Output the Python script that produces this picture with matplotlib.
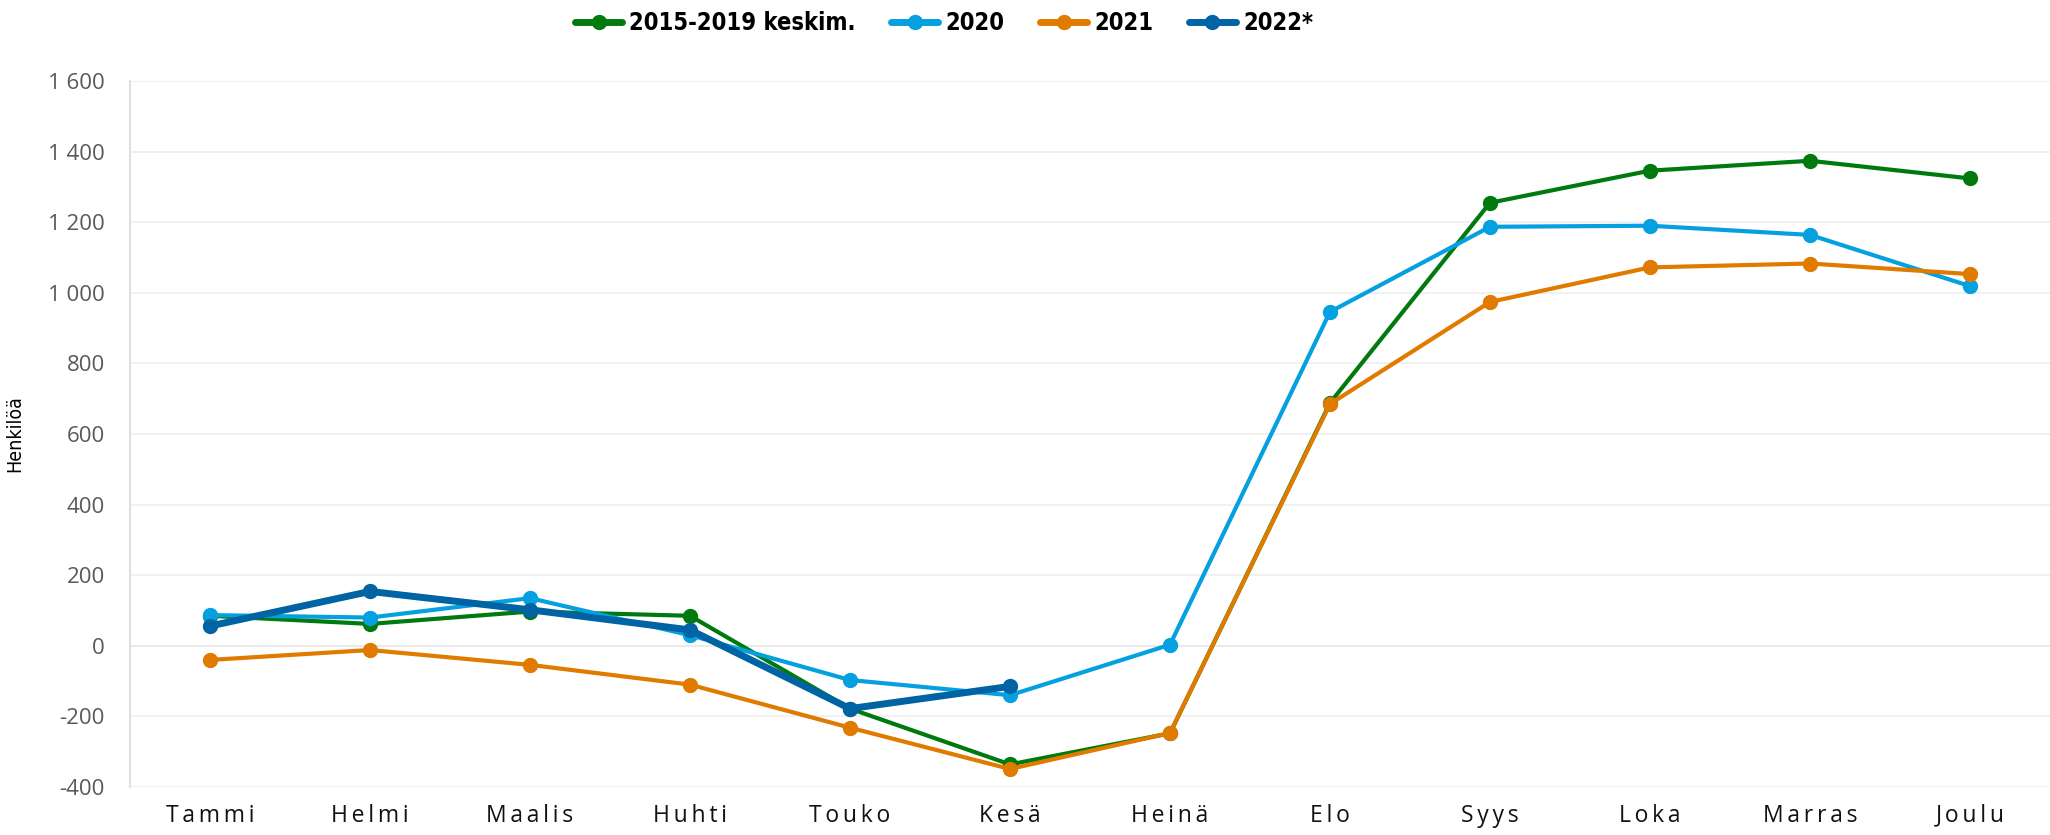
import matplotlib
matplotlib.use('Agg')
import matplotlib.pyplot as plt
from matplotlib.ticker import FuncFormatter

# Kuukaudet ja sarjat (luettu kuvasta)
months = ['Tammi', 'Helmi', 'Maalis', 'Huhti', 'Touko', 'Kesä',
          'Heinä', 'Elo', 'Syys', 'Loka', 'Marras', 'Joulu']
avg_2015_2019 = [85, 62, 97, 85, -178, -336, -248, 688, 1255, 1346, 1374, 1324]
y2020 = [87, 80, 135, 30, -97, -140, 3, 946, 1187, 1190, 1164, 1019]
y2021 = [-40, -12, -54, -110, -232, -349, -247, 685, 974, 1072, 1083, 1053]
y2022 = [56, 154, 102, 45, -178, -115]

series = [
    ('2015-2019 keskim.', avg_2015_2019, '#007a0f', 3.0),
    ('2020', y2020, '#05a0e0', 3.0),
    ('2021', y2021, '#e07b00', 3.0),
    ('2022*', y2022, '#0063a3', 5.0),
]

plt.rcParams['font.family'] = ['Open Sans', 'DejaVu Sans']

fig = plt.figure(figsize=(20.5, 8.35), dpi=100)
ax = fig.add_axes([130 / 2050, 1 - 787 / 835, 1 - 130 / 2050, (787 - 81) / 835])

x = list(range(len(months)))
for name, vals, col, lw in series:
    ax.plot(x[:len(vals)], vals, color=col, lw=lw, marker='o', markersize=10,
            label=name, solid_capstyle='round', zorder=3)

ax.set_xlim(-0.5, len(months) - 0.5)
ax.set_ylim(-400, 1600)
ax.set_yticks(range(-400, 1601, 200))
ax.yaxis.set_major_formatter(FuncFormatter(lambda v, p: f'{int(v):,}'.replace(',', ' ')))
ax.set_xticks(x)
ax.set_xticklabels(['\u2009'.join(m) for m in months], fontsize=16.5, color='#111111')
ax.tick_params(axis='y', labelsize=16, labelcolor='#595959', length=0, pad=18)
ax.tick_params(axis='x', length=0, pad=12)

ax.grid(axis='y', color='#efefef', lw=1.2, zorder=0)
ax.axhline(0, color='#d4d4d4', lw=1.5, zorder=1)
for s in ['top', 'right', 'bottom']:
    ax.spines[s].set_visible(False)
ax.spines['left'].set_color('#e0e0e0')
ax.spines['left'].set_linewidth(1.5)

ax.set_ylabel('Henkilöä', fontsize=14, family='DejaVu Sans', fontstretch='condensed')
ax.yaxis.set_label_coords(-0.055, 0.5)

leg = fig.legend(loc='center', bbox_to_anchor=(0.4605, 0.972), ncol=4, frameon=False,
                 prop={'size': 17, 'weight': 'bold', 'family': 'DejaVu Sans',
                       'stretch': 'condensed'},
                 handlelength=2.0, columnspacing=1.5, handletextpad=0.3)
for h in leg.legend_handles:
    h.set_linewidth(5)

fig.savefig('out.png', dpi=100)
